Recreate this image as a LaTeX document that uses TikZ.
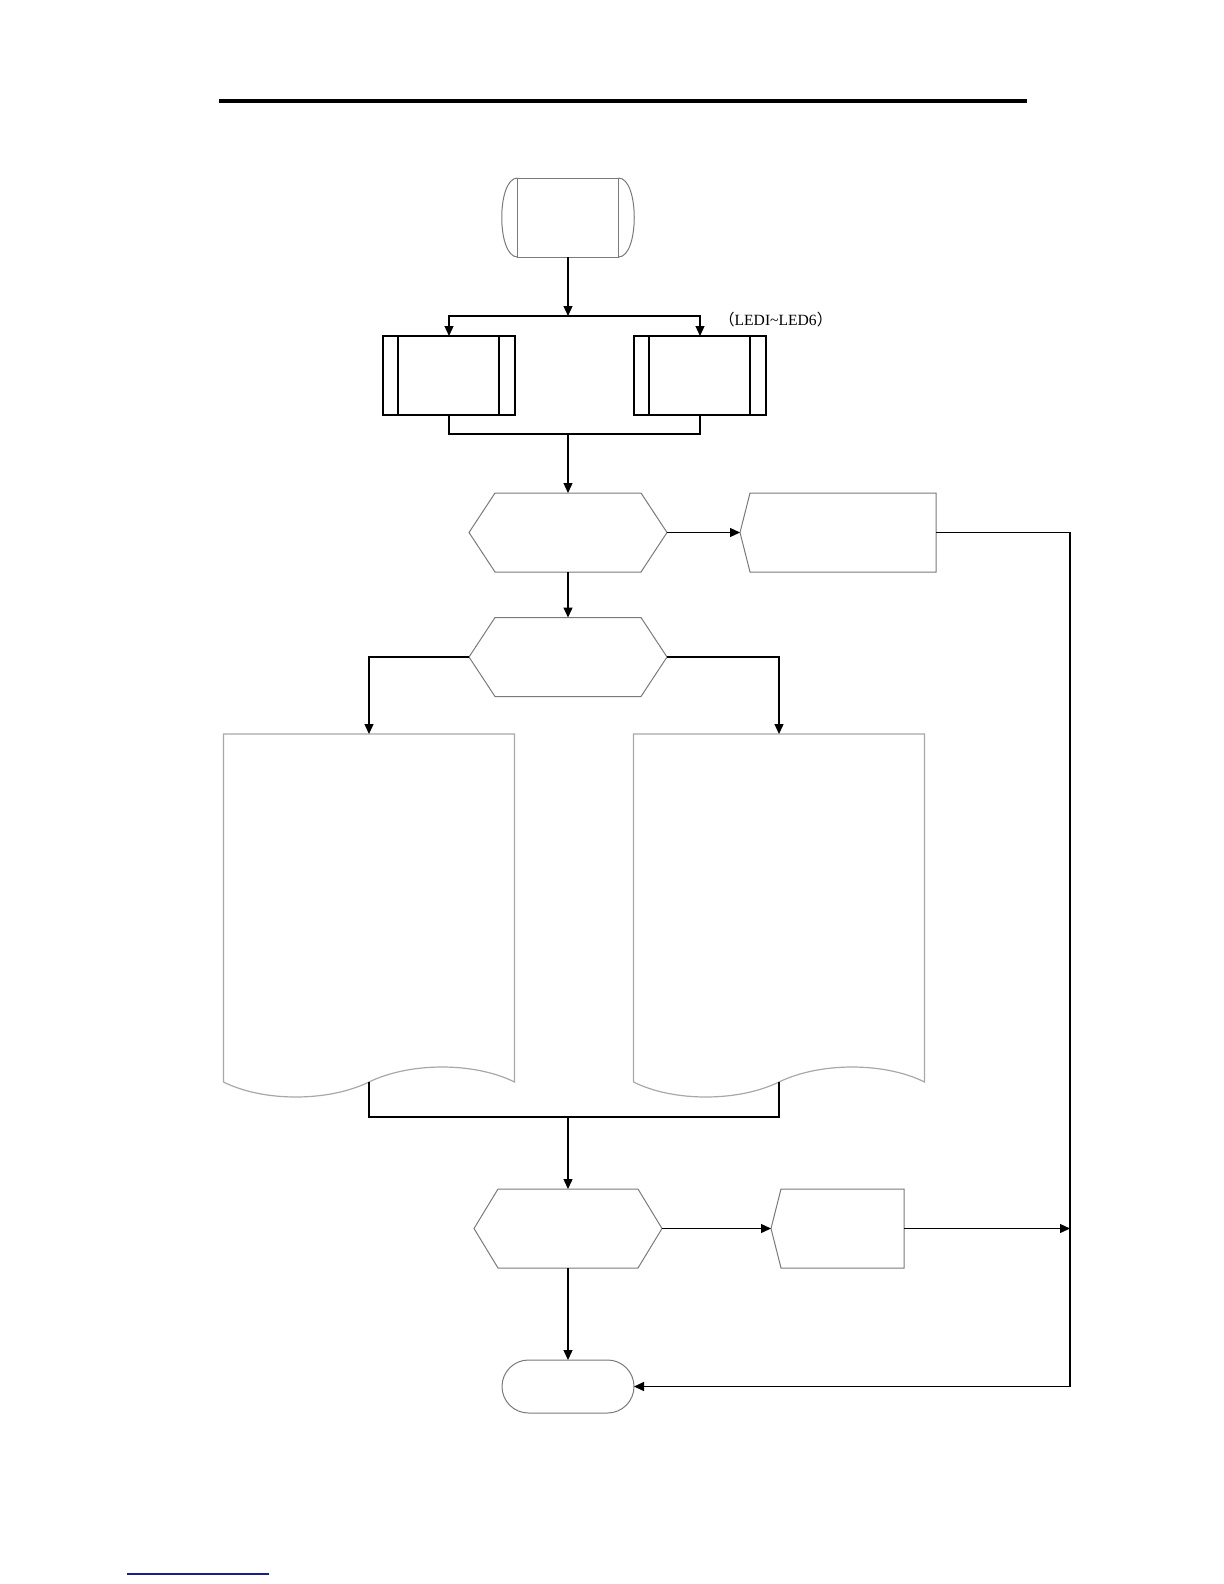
\documentclass[tikz,border=0pt]{standalone}
\usepackage{fontspec}
\setmainfont{Liberation Serif}
\newfontfamily\cjk{Noto Sans CJK SC}
\usetikzlibrary{arrows.meta,positioning,calc,shapes.misc}
\definecolor{ink}{HTML}{000000}
\definecolor{edgegray}{HTML}{7A7A7A}
\definecolor{docgray}{HTML}{A8A8A8}
\definecolor{linkblue}{HTML}{1C1C8C}

\tikzset{
  flow/.style={draw=ink,line width=0.65pt,-{Triangle[length=5pt,width=4.5pt]}},
  link/.style={draw=ink,line width=0.65pt},
  outline/.style={draw=edgegray,line width=0.5pt},
  blank/.style={inner sep=0pt,outer sep=0pt},
  hexbox/.style={blank,minimum width=#1,minimum height=39.5pt},
  outbox/.style={blank,minimum width=#1,minimum height=39.5pt},
  predef/.style={blank,draw=ink,line width=0.6pt,minimum width=66pt,minimum height=39.5pt},
  docbox/.style={blank,minimum width=145.5pt,minimum height=174pt},
}

\begin{document}
\begin{tikzpicture}[x=0.5pt,y=-0.5pt]
  \useasboundingbox (0,0) rectangle (1224,1584);

  % page rules
  \draw[line width=1.6pt] (219,101) -- (1027,101);
  \draw[draw=linkblue,line width=0.75pt] (127,1574) -- (269,1574);

  % start
  \node[blank,outline,minimum width=50.5pt,minimum height=39.5pt] (start) at (568,217.5) {};
  \draw[outline] (start.north west) .. controls +(-21,0) and +(-21,0) .. (start.south west);
  \draw[outline] (start.north east) .. controls +(21,0) and +(21,0) .. (start.south east);

  % two sub-processes
  \node[predef] (init) at (449,375.5) {};
  \node[predef] (ledset) at (700,375.5) {};
  \foreach \n in {init,ledset} {
    \draw[ink,line width=0.6pt] ($(\n.north west)+(15,0)$) -- ($(\n.south west)+(15,0)$);
    \draw[ink,line width=0.6pt] ($(\n.north east)+(-16,0)$) -- ($(\n.south east)+(-16,0)$);
  }
  \node[anchor=west,font=\fontsize{7.8}{9}\selectfont] (ledtag) at (712,320)
    {{\cjk （}LEDI\textasciitilde LED6{\cjk ）}};

  % checks
  \node[hexbox=99pt] (chk1) at (568,532.5) {};
  \node[hexbox=99pt] (chk2) at (568,657) {};
  \node[hexbox=94pt] (chk3) at (568,1228.5) {};
  \foreach \n/\d in {chk1/26,chk2/26,chk3/24}
    \draw[outline] (\n.west) -- ($(\n.north west)+(\d,0)$) -- ($(\n.north east)+(-\d,0)$)
      -- (\n.east) -- ($(\n.south east)+(-\d,0)$) -- ($(\n.south west)+(\d,0)$) -- cycle;

  % side outputs
  \node[outbox=98pt] (out1) at (838,532.5) {};
  \node[outbox=66.5pt] (out3) at (837.5,1228.5) {};
  \foreach \n in {out1,out3}
    \draw[outline] (\n.west) -- ($(\n.north west)+(10,0)$) -- (\n.north east)
      -- (\n.south east) -- ($(\n.south west)+(10,0)$) -- cycle;

  % documents
  \node[docbox] (doc1) at (369,908) {};
  \node[docbox] (doc2) at (779,908) {};
  \foreach \n in {doc1,doc2}
    \draw[draw=docgray,line width=0.6pt] (\n.south west) -- (\n.north west) -- (\n.north east)
      -- (\n.south east) .. controls +(-40,-20) and +(41,-20) .. (\n.south)
      .. controls +(-41,20) and +(40,20) .. (\n.south west);

  % end
  \node[blank,rounded rectangle,outline,minimum width=66pt,minimum height=26.5pt] (finish) at (568,1386.5) {};

  % helper points
  \coordinate (fork) at (568,316);
  \coordinate (join) at (568,434);
  \coordinate (merge) at (568,1117);
  \coordinate (railend) at (1070,1386.5);

  % connectors
  \draw[flow] (start.south) -- (fork);
  \draw[flow] (fork) -| (init.north);
  \draw[flow] (fork) -| (ledset.north);
  \draw[link] (init.south) |- (join) -| (ledset.south);
  \draw[flow] (join) -- (chk1.north);
  \draw[flow] (chk1.east) -- (out1.west);
  \draw[flow] (chk1.south) -- (chk2.north);
  \draw[flow] (chk2.west) -| (doc1.north);
  \draw[flow] (chk2.east) -| (doc2.north);
  \draw[link] (doc1.south) |- (merge) -| (doc2.south);
  \draw[flow] (merge) -- (chk3.north);
  \draw[flow] (chk3.east) -- (out3.west);
  \draw[flow] (chk3.south) -- (finish.north);
  \draw[flow] (out3.east) -- (out3.east -| railend);
  \draw[flow] (out1.east) -| (railend) -- (finish.east);
\end{tikzpicture}
\end{document}
